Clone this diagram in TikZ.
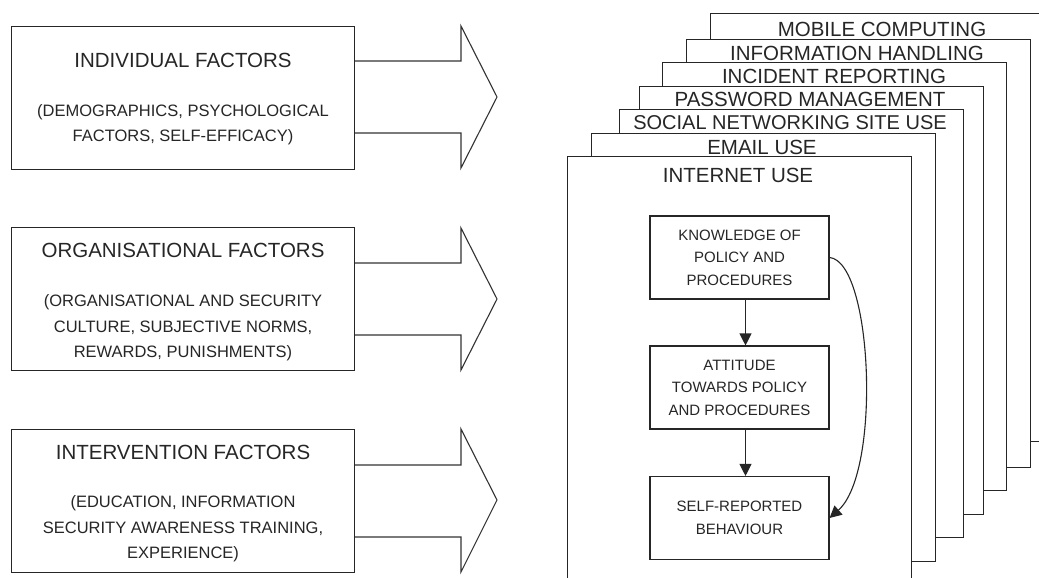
\documentclass[tikz,border=0pt]{standalone}
\usepackage{fontspec}
\setmainfont{Liberation Sans}
\usetikzlibrary{arrows.meta}
\begin{document}
\begin{tikzpicture}[x=1pt,y=-1pt,
  ln/.style={draw=black!85,line width=1.1pt},
  factorbox/.style={ln,fill=white,minimum width=343pt,minimum height=143pt,anchor=north west,inner sep=0pt},
  bigarrow/.style={draw=black!80,line width=1.1pt,line join=miter},
  page/.style={ln,fill=white,minimum width=344pt,minimum height=428pt,anchor=north west,inner sep=0pt},
  pagetitle/.style={font=\fontsize{20.5}{24}\selectfont,text=black!85,inner sep=0pt},
  ftitle/.style={font=\fontsize{20.5}{24}\selectfont,text=black!85,inner sep=0pt},
  fsub/.style={font=\fontsize{16.5}{25.5}\selectfont,text=black!85,align=center,inner sep=0pt},
  stepbox/.style={ln,fill=white,minimum width=179pt,minimum height=83pt,align=center,
    font=\fontsize{15}{22.5}\selectfont,text=black!85,inner sep=0pt},
  flow/.style={draw=black!85,line width=1.1pt,-{Triangle[width=12pt,length=12pt]}}
]
\useasboundingbox (0,0) rectangle (1039,578);
\clip (0,0) rectangle (1039,578);
\fill[white] (0,0) rectangle (1039,578);

% left factor boxes
\node[factorbox] (ind) at (11,26) {};
\node[ftitle] (indT) at (183,60) {INDIVIDUAL FACTORS};
\node[fsub] (indS) at (183,124.5) {(DEMOGRAPHICS, PSYCHOLOGICAL\\FACTORS, SELF-EFFICACY)};

\node[factorbox] (org) at (11,227) {};
\node[ftitle] (orgT) at (183,250) {ORGANISATIONAL FACTORS};
\node[fsub] (orgS) at (183,328) {(ORGANISATIONAL AND SECURITY\\CULTURE, SUBJECTIVE NORMS,\\REWARDS, PUNISHMENTS)};

\node[factorbox] (int) at (11,429) {};
\node[ftitle] (intT) at (183,452) {INTERVENTION FACTORS};
\node[fsub] (intS) at (183,529) {(EDUCATION, INFORMATION\\SECURITY AWARENESS TRAINING,\\EXPERIENCE)};

% block arrows
\draw[bigarrow] (ind.east |- 0,61) -- (461,61) -- (461,26) -- (497,97) -- (461,168) -- (461,133) -- (ind.east |- 0,133);
\draw[bigarrow] (org.east |- 0,263) -- (461,263) -- (461,228) -- (497,299) -- (461,370) -- (461,335) -- (org.east |- 0,335);
\draw[bigarrow] (int.east |- 0,465) -- (461,465) -- (461,429) -- (497,500) -- (461,572) -- (461,537) -- (int.east |- 0,537);

% stack of pages (back to front)
\node[page] (mob) at (710,13) {};
\node[pagetitle] at (882,29) {MOBILE COMPUTING};
\node[page] (info) at (686,39) {};
\node[pagetitle] at (857,53) {INFORMATION HANDLING};
\node[page] (inc) at (662,62) {};
\node[pagetitle] at (834,76) {INCIDENT REPORTING};
\node[page] (pw) at (639,86) {};
\node[pagetitle] at (810,99.5) {PASSWORD MANAGEMENT};
\node[page] (soc) at (619,109) {};
\node[pagetitle,font=\fontsize{20}{24}\selectfont] at (790,123) {SOCIAL NETWORKING SITE USE};
\node[page] (email) at (591,133) {};
\node[pagetitle] at (762,147) {EMAIL USE};
\node[page] (inet) at (567,156) {};
\node[pagetitle] at (738,175) {INTERNET USE};

% inner model
\node[stepbox] (k) at (739.5,257.5) {KNOWLEDGE OF\\POLICY AND\\PROCEDURES};
\node[stepbox] (a) at (739.5,387.5) {ATTITUDE\\TOWARDS POLICY\\AND PROCEDURES};
\node[stepbox] (s) at (739.5,518) {SELF-REPORTED\\BEHAVIOUR};

\draw[flow] ([xshift=6pt]k.south) -- ([xshift=6pt]a.north);
\draw[flow] ([xshift=6pt]a.south) -- ([xshift=6pt]s.north);
\draw[flow] (k.east) .. controls +(43,4) and +(52,-46) .. (s.east);
\end{tikzpicture}
\end{document}
